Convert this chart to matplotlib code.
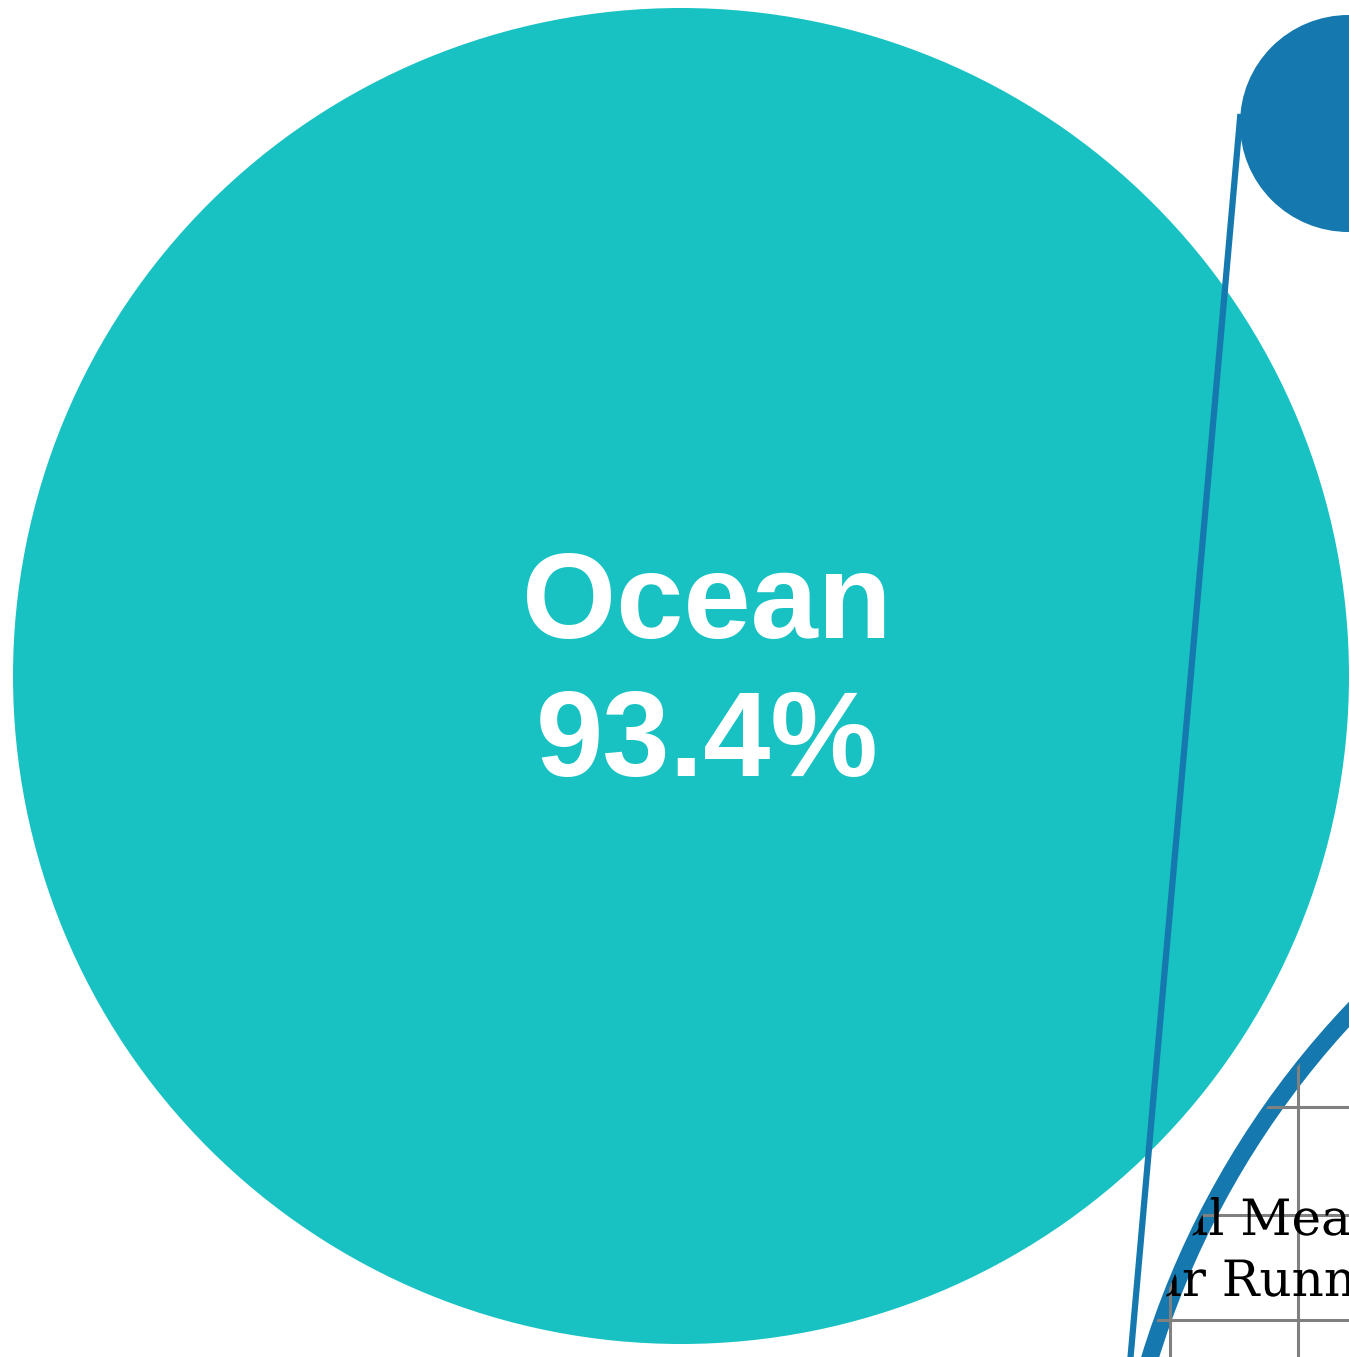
import numpy as np
import matplotlib
matplotlib.use("Agg")
import matplotlib.pyplot as plt
import matplotlib.patheffects as pe
from matplotlib.patches import Circle

# data
categories = ["Ocean"]
shares = [93.4]
inset_lines = ["Annual Mean", "5-Year Running Mean"]

teal = "#19C2C2"
blue = "#1578AE"

W, H = 1349, 1357
fig = plt.figure(figsize=(W / 100, H / 100), dpi=100)
ax = fig.add_axes([0, 0, 1, 1])

# big pie (single visible slice fills the disc)
ax.pie(shares, colors=[teal], center=(681, 676), radius=668,
       wedgeprops=dict(linewidth=0), normalize=True)

ax.set_xlim(0, W)
ax.set_ylim(H, 0)
ax.set_aspect("equal")
ax.axis("off")

ax.text(707, 638, categories[0], color="white", fontsize=87, fontweight="bold",
        family="Liberation Sans", ha="center", va="baseline")
ax.text(707, 776, f"{shares[0]:.1f}%", color="white", fontsize=87, fontweight="bold",
        family="Liberation Sans", ha="center", va="baseline")

# small circle top right and the zoomed ring bottom right
c1, r1 = np.array([1348.5, 123.5]), 108.5
c2, r2 = np.array([1993.0, 1617.0]), 882.0
ax.add_patch(Circle(c1, r1, color=blue, lw=0, zorder=3))
ax.add_patch(Circle(c2, r2, fill=False, ec=blue, lw=12.5, zorder=3))

# outer tangent joining the two circles
d = c2 - c1
D = np.hypot(*d)
u = d / D
cos_t = (r1 - r2) / D
sin_t = np.sqrt(1 - cos_t ** 2)
perp = np.array([-u[1], u[0]])
n = u * cos_t + perp * sin_t
p1 = c1 + r1 * n
p2 = c2 + r2 * n
ax.plot([p1[0], p2[0]], [p1[1], p2[1]], color=blue, lw=4.5, zorder=3,
        solid_capstyle="butt")

# inset content clipped to the ring
clip = Circle(c2, 887, transform=ax.transData)
vl = ax.vlines([1170, 1298], 0, H, color="#808080", lw=2.2, zorder=4)
hl = ax.hlines([1107, 1215, 1320], 0, W, color="#808080", lw=2.2, zorder=4)
vl.set_clip_path(clip)
hl.set_clip_path(clip)

renderer = fig.canvas.get_renderer()
serif = "DejaVu Serif"
fs = 36

def prefix_width(s):
    t = ax.text(0, 0, s, fontsize=fs, family=serif)
    w = t.get_window_extent(renderer).width
    t.remove()
    return w

# "M" of first line at x ~1240, "R" of second line at x ~1222
x1 = 1240 - prefix_width("Annual ")
x2 = 1222 - prefix_width("5-Year ")
for x, y, s in [(x1, 1235, inset_lines[0]), (x2, 1296, inset_lines[1])]:
    t = ax.text(x, y, s, fontsize=fs, family=serif, color="black",
                va="baseline", zorder=5, clip_on=True,
                path_effects=[pe.Normal()])
    t.set_clip_path(clip)

plt.savefig("out.png", dpi=100)
